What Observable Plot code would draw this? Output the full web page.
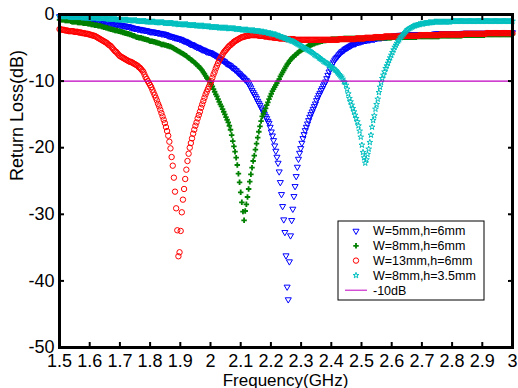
<!DOCTYPE html>
<html><head><meta charset="utf-8">
<script src="https://cdn.jsdelivr.net/npm/d3@7"></script>
<script src="https://cdn.jsdelivr.net/npm/@observablehq/plot@0.6"></script>
<style>
body{margin:0;background:#fff;}
#chart{width:518px;height:388px;}
</style></head><body><div id="chart"></div>
<script>
// Frequency sweep of the measurement (GHz): 401 points from 1.5 to 3 GHz
const sweepStart = 1.5;
const sweepStep = 0.00375;
const xTicks = [1.5,1.6,1.7,1.8,1.9,2,2.1,2.2,2.3,2.4,2.5,2.6,2.7,2.8,2.9,3];
const yTicks = [0,-10,-20,-30,-40,-50];
const seriesNames = ["W=5mm,h=6mm","W=8mm,h=6mm","W=13mm,h=6mm","W=8mm,h=3.5mm"];
const refLevel = -10;
const refName = "-10dB";

// Return loss (dB), one value per sweep point
const lossW5h6 = [
-0.3,-0.3,-0.3,-0.3,-0.3,-0.4,-0.4,-0.4,-0.4,-0.4,
-0.5,-0.5,-0.5,-0.5,-0.5,-0.5,-0.5,-0.6,-0.6,-0.6,
-0.6,-0.7,-0.7,-0.7,-0.7,-0.7,-0.8,-0.8,-0.8,-0.8,
-0.8,-0.9,-0.9,-0.9,-1.0,-1.0,-1.0,-1.1,-1.1,-1.1,
-1.1,-1.2,-1.2,-1.2,-1.3,-1.3,-1.3,-1.4,-1.4,-1.4,
-1.5,-1.5,-1.5,-1.6,-1.6,-1.6,-1.7,-1.7,-1.7,-1.8,
-1.8,-1.8,-1.9,-1.9,-2.0,-2.0,-2.1,-2.1,-2.1,-2.2,
-2.2,-2.2,-2.3,-2.3,-2.3,-2.4,-2.4,-2.4,-2.5,-2.5,
-2.6,-2.6,-2.6,-2.6,-2.7,-2.7,-2.7,-2.8,-2.8,-2.8,
-2.9,-2.9,-2.9,-3.0,-3.0,-3.1,-3.2,-3.2,-3.3,-3.3,
-3.4,-3.4,-3.5,-3.5,-3.6,-3.6,-3.7,-3.7,-3.8,-3.9,
-4.0,-4.0,-4.1,-4.2,-4.3,-4.4,-4.5,-4.5,-4.6,-4.7,
-4.8,-4.9,-4.9,-5.0,-5.1,-5.2,-5.3,-5.3,-5.4,-5.5,
-5.6,-5.6,-5.7,-5.7,-5.8,-5.9,-6.0,-6.1,-6.2,-6.3,
-6.4,-6.5,-6.7,-6.8,-6.9,-7.0,-7.1,-7.3,-7.4,-7.5,
-7.6,-7.7,-7.9,-8.0,-8.1,-8.3,-8.4,-8.6,-8.8,-8.9,
-9.1,-9.3,-9.4,-9.6,-9.8,-9.9,-10.1,-10.4,-10.7,-11.0,
-11.4,-11.7,-12.0,-12.3,-12.6,-13.0,-13.3,-13.6,-14.0,-14.3,
-14.6,-15.0,-15.3,-15.6,-16.0,-16.3,-16.9,-17.6,-18.2,-18.9,
-19.7,-20.5,-21.4,-22.3,-23.6,-25.2,-27.0,-28.8,-30.8,-32.7,
-36.2,-40.9,-42.8,-37.1,-33.2,-30.9,-29.2,-27.3,-25.8,-24.3,
-22.9,-21.7,-20.8,-20.1,-19.3,-18.6,-18.0,-17.4,-16.9,-16.4,
-15.9,-15.4,-15.0,-14.6,-14.2,-13.8,-13.4,-12.9,-12.5,-12.1,
-11.8,-11.4,-11.1,-10.7,-10.4,-10.1,-9.6,-9.1,-8.6,-8.2,
-7.8,-7.4,-7.1,-6.8,-6.6,-6.4,-6.2,-6.0,-5.8,-5.6,
-5.5,-5.4,-5.2,-5.1,-5.0,-4.9,-4.8,-4.7,-4.6,-4.5,
-4.4,-4.4,-4.3,-4.2,-4.2,-4.1,-4.1,-4.0,-4.0,-3.9,
-3.9,-3.9,-3.8,-3.8,-3.8,-3.7,-3.7,-3.7,-3.7,-3.6,
-3.6,-3.5,-3.5,-3.5,-3.5,-3.4,-3.4,-3.4,-3.4,-3.4,
-3.3,-3.3,-3.3,-3.3,-3.3,-3.2,-3.2,-3.2,-3.2,-3.2,
-3.1,-3.1,-3.1,-3.1,-3.1,-3.0,-3.0,-3.0,-3.0,-3.0,
-3.0,-3.0,-3.0,-3.0,-3.0,-3.0,-3.0,-3.0,-3.0,-3.0,
-3.0,-3.0,-3.0,-3.0,-3.0,-3.0,-3.0,-3.0,-3.0,-3.0,
-3.0,-2.9,-2.9,-2.9,-2.9,-2.9,-2.9,-2.9,-2.9,-2.9,
-2.9,-2.9,-2.9,-2.9,-2.9,-2.9,-2.9,-2.9,-2.9,-2.9,
-2.9,-2.9,-2.9,-2.9,-2.9,-2.9,-2.8,-2.8,-2.8,-2.8,
-2.8,-2.8,-2.8,-2.8,-2.8,-2.8,-2.8,-2.8,-2.8,-2.8,
-2.8,-2.8,-2.8,-2.8,-2.8,-2.8,-2.8,-2.8,-2.8,-2.8,
-2.8,-2.7,-2.7,-2.7,-2.7,-2.7,-2.7,-2.7,-2.7,-2.7,
-2.7,-2.7,-2.7,-2.7,-2.7,-2.7,-2.7,-2.7,-2.7,-2.7,
-2.7];

const lossW8h6 = [
-0.8,-0.8,-0.8,-0.8,-0.8,-0.9,-0.9,-0.9,-0.9,-0.9,
-1.0,-1.1,-1.1,-1.1,-1.1,-1.1,-1.2,-1.2,-1.2,-1.2,
-1.2,-1.3,-1.3,-1.3,-1.3,-1.4,-1.4,-1.4,-1.5,-1.5,
-1.5,-1.6,-1.6,-1.6,-1.7,-1.7,-1.7,-1.8,-1.8,-1.9,
-1.9,-2.0,-2.0,-2.1,-2.1,-2.2,-2.2,-2.3,-2.3,-2.4,
-2.4,-2.4,-2.5,-2.5,-2.6,-2.6,-2.7,-2.7,-2.8,-2.8,
-2.9,-2.9,-3.0,-3.0,-3.1,-3.2,-3.2,-3.3,-3.4,-3.4,
-3.5,-3.5,-3.5,-3.6,-3.6,-3.7,-3.7,-3.8,-3.8,-3.9,
-4.0,-4.0,-4.0,-4.1,-4.1,-4.2,-4.2,-4.3,-4.3,-4.4,
-4.5,-4.5,-4.5,-4.6,-4.6,-4.7,-4.7,-4.8,-4.8,-4.9,
-5.0,-5.1,-5.2,-5.3,-5.4,-5.5,-5.6,-5.7,-5.8,-5.9,
-6.0,-6.1,-6.2,-6.4,-6.5,-6.6,-6.8,-6.9,-7.0,-7.2,
-7.3,-7.5,-7.7,-7.8,-8.0,-8.2,-8.4,-8.7,-8.9,-9.2,
-9.5,-9.7,-9.9,-10.1,-10.5,-10.8,-11.2,-11.6,-12.0,-12.3,
-12.7,-13.1,-13.5,-13.8,-14.2,-14.6,-15.0,-15.4,-15.8,-16.2,
-16.7,-17.3,-18.1,-19.0,-19.8,-20.6,-21.5,-22.6,-23.9,-25.2,
-26.7,-28.2,-29.6,-30.9,-29.5,-28.5,-27.4,-26.2,-25.1,-24.0,
-23.0,-22.0,-21.2,-20.3,-19.4,-18.5,-17.6,-16.8,-16.0,-15.3,
-14.9,-14.5,-14.1,-13.6,-13.2,-12.7,-12.3,-11.9,-11.5,-11.2,
-10.9,-10.6,-10.3,-10.0,-9.7,-9.3,-9.0,-8.7,-8.4,-8.1,
-7.8,-7.5,-7.3,-7.0,-6.8,-6.6,-6.4,-6.3,-6.1,-6.0,
-5.8,-5.7,-5.5,-5.4,-5.3,-5.2,-5.1,-5.0,-4.9,-4.8,
-4.7,-4.7,-4.6,-4.5,-4.4,-4.4,-4.3,-4.2,-4.2,-4.1,
-4.1,-4.0,-4.0,-3.9,-3.9,-3.9,-3.8,-3.8,-3.8,-3.8,
-3.7,-3.7,-3.7,-3.7,-3.7,-3.7,-3.7,-3.7,-3.7,-3.7,
-3.7,-3.6,-3.6,-3.6,-3.6,-3.6,-3.6,-3.6,-3.6,-3.6,
-3.6,-3.6,-3.6,-3.6,-3.6,-3.6,-3.6,-3.6,-3.6,-3.6,
-3.6,-3.5,-3.5,-3.5,-3.5,-3.5,-3.5,-3.5,-3.5,-3.5,
-3.5,-3.5,-3.5,-3.5,-3.5,-3.5,-3.5,-3.5,-3.5,-3.5,
-3.5,-3.5,-3.5,-3.5,-3.4,-3.4,-3.4,-3.4,-3.4,-3.4,
-3.4,-3.4,-3.4,-3.4,-3.4,-3.4,-3.4,-3.4,-3.4,-3.4,
-3.4,-3.4,-3.4,-3.4,-3.4,-3.4,-3.3,-3.3,-3.3,-3.3,
-3.3,-3.3,-3.3,-3.3,-3.3,-3.3,-3.3,-3.3,-3.3,-3.3,
-3.3,-3.3,-3.3,-3.3,-3.3,-3.3,-3.2,-3.2,-3.2,-3.2,
-3.2,-3.2,-3.2,-3.2,-3.2,-3.2,-3.2,-3.2,-3.2,-3.2,
-3.2,-3.2,-3.2,-3.2,-3.2,-3.2,-3.1,-3.1,-3.1,-3.1,
-3.1,-3.1,-3.1,-3.1,-3.1,-3.1,-3.1,-3.1,-3.1,-3.1,
-3.1,-3.1,-3.1,-3.1,-3.1,-3.1,-3.0,-3.0,-3.0,-3.0,
-3.0,-3.0,-3.0,-3.0,-3.0,-3.0,-3.0,-3.0,-3.0,-3.0,
-3.0,-3.0,-3.0,-3.0,-3.0,-3.0,-3.0,-3.0,-3.0,-3.0,
-3.0];

const lossW13h6 = [
-2.2,-2.2,-2.3,-2.3,-2.3,-2.4,-2.4,-2.4,-2.5,-2.5,
-2.5,-2.5,-2.5,-2.6,-2.6,-2.6,-2.6,-2.7,-2.7,-2.7,
-2.8,-2.8,-2.8,-2.9,-2.9,-2.9,-3.0,-3.0,-3.1,-3.1,
-3.2,-3.2,-3.3,-3.4,-3.5,-3.6,-3.7,-3.8,-3.9,-4.0,
-4.1,-4.2,-4.3,-4.5,-4.6,-4.7,-4.9,-5.1,-5.3,-5.5,
-5.6,-5.8,-6.0,-6.2,-6.3,-6.4,-6.5,-6.6,-6.7,-6.8,
-6.9,-7.0,-7.1,-7.1,-7.2,-7.3,-7.4,-7.5,-7.6,-7.7,
-7.9,-8.0,-8.2,-8.4,-8.6,-9.0,-9.4,-9.7,-10.0,-10.3,
-10.6,-10.9,-11.3,-11.7,-12.1,-12.5,-12.9,-13.4,-13.8,-14.3,
-14.8,-15.3,-15.8,-16.3,-16.9,-17.5,-18.2,-19.1,-20.1,-21.4,
-22.7,-24.5,-26.6,-29.1,-32.4,-36.3,-35.7,-32.5,-29.7,-27.8,
-26.2,-24.7,-23.3,-22.0,-20.9,-20.0,-19.3,-18.6,-17.9,-17.3,
-16.7,-16.2,-15.6,-15.1,-14.6,-14.0,-13.5,-13.0,-12.5,-12.0,
-11.6,-11.2,-10.8,-10.4,-10.0,-9.5,-9.0,-8.6,-8.1,-7.7,
-7.3,-6.9,-6.6,-6.3,-6.0,-5.7,-5.5,-5.3,-5.1,-4.9,
-4.7,-4.6,-4.4,-4.3,-4.1,-4.0,-3.9,-3.8,-3.7,-3.6,
-3.5,-3.4,-3.4,-3.3,-3.3,-3.2,-3.2,-3.2,-3.1,-3.1,
-3.1,-3.1,-3.1,-3.1,-3.1,-3.1,-3.2,-3.2,-3.2,-3.2,
-3.2,-3.3,-3.3,-3.3,-3.3,-3.4,-3.4,-3.4,-3.4,-3.5,
-3.5,-3.5,-3.5,-3.5,-3.6,-3.6,-3.6,-3.6,-3.6,-3.6,
-3.7,-3.7,-3.7,-3.7,-3.7,-3.7,-3.7,-3.7,-3.8,-3.8,
-3.8,-3.8,-3.8,-3.8,-3.8,-3.8,-3.8,-3.8,-3.8,-3.8,
-3.8,-3.8,-3.8,-3.8,-3.8,-3.8,-3.8,-3.8,-3.8,-3.8,
-3.8,-3.8,-3.8,-3.8,-3.8,-3.8,-3.8,-3.8,-3.8,-3.8,
-3.8,-3.8,-3.8,-3.8,-3.8,-3.8,-3.8,-3.7,-3.7,-3.7,
-3.7,-3.7,-3.7,-3.7,-3.7,-3.7,-3.7,-3.7,-3.7,-3.7,
-3.7,-3.7,-3.6,-3.6,-3.6,-3.6,-3.6,-3.6,-3.6,-3.6,
-3.5,-3.5,-3.5,-3.5,-3.5,-3.5,-3.5,-3.5,-3.4,-3.4,
-3.4,-3.4,-3.4,-3.4,-3.4,-3.4,-3.4,-3.3,-3.3,-3.3,
-3.3,-3.3,-3.3,-3.3,-3.3,-3.3,-3.3,-3.3,-3.3,-3.3,
-3.3,-3.2,-3.2,-3.2,-3.2,-3.2,-3.2,-3.2,-3.2,-3.2,
-3.2,-3.2,-3.2,-3.2,-3.2,-3.2,-3.2,-3.2,-3.1,-3.1,
-3.1,-3.1,-3.1,-3.1,-3.1,-3.1,-3.1,-3.1,-3.1,-3.1,
-3.1,-3.1,-3.1,-3.1,-3.1,-3.1,-3.0,-3.0,-3.0,-3.0,
-3.0,-3.0,-3.0,-3.0,-3.0,-3.0,-3.0,-3.0,-3.0,-3.0,
-3.0,-3.0,-3.0,-3.0,-3.0,-3.0,-3.0,-2.9,-2.9,-2.9,
-2.9,-2.9,-2.9,-2.9,-2.9,-2.9,-2.9,-2.9,-2.9,-2.9,
-2.9,-2.9,-2.9,-2.9,-2.9,-2.9,-2.9,-2.8,-2.8,-2.8,
-2.8,-2.8,-2.8,-2.8,-2.8,-2.8,-2.8,-2.8,-2.8,-2.8,
-2.8,-2.8,-2.8,-2.8,-2.8,-2.8,-2.8,-2.8,-2.8,-2.8,
-2.8];

const lossW8h35 = [
-0.3,-0.3,-0.3,-0.3,-0.3,-0.3,-0.3,-0.3,-0.3,-0.4,
-0.4,-0.4,-0.4,-0.4,-0.4,-0.4,-0.4,-0.4,-0.4,-0.4,
-0.4,-0.5,-0.5,-0.5,-0.5,-0.5,-0.5,-0.5,-0.5,-0.5,
-0.5,-0.5,-0.5,-0.5,-0.6,-0.6,-0.6,-0.6,-0.6,-0.6,
-0.6,-0.6,-0.6,-0.7,-0.7,-0.7,-0.7,-0.7,-0.7,-0.7,
-0.7,-0.8,-0.8,-0.8,-0.8,-0.8,-0.8,-0.8,-0.8,-0.8,
-0.8,-0.9,-0.9,-0.9,-0.9,-0.9,-0.9,-0.9,-0.9,-1.0,
-1.0,-1.0,-1.0,-1.0,-1.0,-1.0,-1.0,-1.1,-1.1,-1.1,
-1.1,-1.1,-1.1,-1.1,-1.1,-1.2,-1.2,-1.2,-1.2,-1.2,
-1.2,-1.2,-1.2,-1.3,-1.3,-1.3,-1.3,-1.3,-1.3,-1.3,
-1.3,-1.4,-1.4,-1.4,-1.4,-1.5,-1.5,-1.5,-1.5,-1.5,
-1.5,-1.5,-1.5,-1.5,-1.6,-1.6,-1.6,-1.6,-1.6,-1.6,
-1.6,-1.7,-1.7,-1.7,-1.7,-1.7,-1.7,-1.7,-1.8,-1.8,
-1.8,-1.8,-1.8,-1.8,-1.9,-1.9,-1.9,-1.9,-1.9,-1.9,
-1.9,-2.0,-2.0,-2.0,-2.0,-2.0,-2.0,-2.0,-2.0,-2.1,
-2.1,-2.1,-2.1,-2.1,-2.1,-2.1,-2.2,-2.2,-2.2,-2.2,
-2.2,-2.3,-2.3,-2.3,-2.3,-2.3,-2.3,-2.4,-2.4,-2.4,
-2.4,-2.4,-2.4,-2.5,-2.5,-2.5,-2.5,-2.5,-2.6,-2.6,
-2.6,-2.7,-2.7,-2.7,-2.8,-2.8,-2.8,-2.9,-2.9,-3.0,
-3.0,-3.0,-3.1,-3.2,-3.2,-3.3,-3.4,-3.4,-3.5,-3.6,
-3.6,-3.7,-3.8,-3.8,-3.9,-4.0,-4.0,-4.1,-4.2,-4.3,
-4.4,-4.5,-4.6,-4.7,-4.8,-4.9,-5.0,-5.1,-5.2,-5.3,
-5.4,-5.5,-5.6,-5.7,-5.8,-6.0,-6.1,-6.2,-6.3,-6.5,
-6.6,-6.7,-6.8,-7.0,-7.1,-7.2,-7.3,-7.4,-7.6,-7.7,
-7.9,-8.0,-8.1,-8.3,-8.4,-8.6,-8.8,-9.0,-9.2,-9.4,
-9.7,-10.1,-10.2,-10.6,-11.2,-11.9,-12.6,-13.1,-13.6,-14.1,
-14.6,-15.1,-15.6,-16.1,-16.7,-17.5,-18.4,-19.6,-20.7,-21.5,
-22.3,-21.8,-21.0,-20.2,-19.2,-18.1,-16.9,-15.9,-15.2,-14.2,
-13.5,-12.7,-11.7,-10.9,-10.2,-9.6,-9.1,-8.6,-8.1,-7.7,
-7.3,-6.9,-6.5,-6.1,-5.7,-5.3,-4.9,-4.6,-4.3,-4.0,
-3.8,-3.5,-3.3,-3.1,-2.9,-2.7,-2.5,-2.3,-2.2,-2.1,
-2.0,-1.9,-1.8,-1.7,-1.7,-1.6,-1.6,-1.5,-1.5,-1.4,
-1.4,-1.4,-1.3,-1.3,-1.3,-1.3,-1.2,-1.2,-1.2,-1.2,
-1.2,-1.1,-1.1,-1.1,-1.1,-1.1,-1.1,-1.1,-1.1,-1.1,
-1.1,-1.1,-1.1,-1.1,-1.1,-1.1,-1.0,-1.0,-1.0,-1.0,
-1.0,-1.0,-1.0,-1.0,-1.0,-1.0,-1.0,-1.0,-1.0,-1.0,
-1.0,-1.0,-1.0,-1.0,-1.0,-1.0,-1.0,-1.0,-1.0,-1.0,
-1.0,-1.0,-1.0,-1.0,-1.0,-1.0,-1.0,-1.0,-1.0,-1.0,
-1.0,-1.0,-1.0,-1.0,-1.0,-1.0,-1.0,-1.0,-1.0,-1.0,
-1.0,-1.0,-1.0,-1.0,-1.0,-1.0,-1.0,-1.0,-1.0,-1.0,
-1.0];

const colors = {blue:"#0000ff", green:"#008000", red:"#ff0000", cyan:"#00bfbf", ref:"#bf00bf"};

// Down-pointing triangle (MATLAB 'v' marker)
const triangleDown = {draw(ctx, size) {
  const s = Math.sqrt(size) * 0.6824, t = s / 2, u = s * Math.sqrt(3) / 2;
  ctx.moveTo(0, s); ctx.lineTo(u, -t); ctx.lineTo(-u, -t); ctx.closePath();
}};

const toRows = (vals) => vals.map((v, i) => ({f: sweepStart + i * sweepStep, db: v}));

const font = "'Liberation Sans', Arial, sans-serif";
const plot = Plot.plot({
  width: 518, height: 388,
  marginLeft: 59, marginRight: 6, marginTop: 14, marginBottom: 41,
  style: {fontFamily: font, fontSize: "18px", background: "#fff", color: "#000"},
  x: {domain: [1.5, 3]},
  y: {domain: [-50, 0]},
  marks: [
    Plot.dot(toRows(lossW5h6), {x: "f", y: "db", symbol: triangleDown, r: 2.9, stroke: colors.blue, fill: "none", strokeWidth: 1}),
    Plot.dot(toRows(lossW8h6), {x: "f", y: "db", symbol: "cross", r: 2.3, fill: colors.green, stroke: "none"}),
    Plot.dot(toRows(lossW13h6), {x: "f", y: "db", symbol: "circle", r: 2.7, stroke: colors.red, fill: "none", strokeWidth: 1}),
    Plot.dot(toRows(lossW8h35), {x: "f", y: "db", symbol: "star", r: 1.8, stroke: colors.cyan, fill: "none", strokeWidth: 1}),
    Plot.ruleY([refLevel], {stroke: colors.ref, strokeWidth: 1.3}),
    Plot.axisX(xTicks, {anchor: "bottom", tickSize: -5, tickPadding: 11.5, strokeWidth: 2, tickFormat: d => String(d), label: null, fontSize: 18}),
    Plot.axisX(xTicks, {anchor: "top", tickSize: -5, strokeWidth: 2, tickFormat: () => "", label: null}),
    Plot.axisY(yTicks, {anchor: "left", tickSize: -5, tickPadding: 10, strokeWidth: 2, tickFormat: d => String(d), label: null, fontSize: 18}),
    Plot.axisY(yTicks, {anchor: "right", tickSize: -5, strokeWidth: 2, tickFormat: () => "", label: null}),
    Plot.frame({stroke: "#000", strokeWidth: 3}),
    Plot.text(["Return Loss(dB)"], {text: d => d, frameAnchor: "left", rotate: -90, dx: -42, fontSize: 18})
  ]
});
document.getElementById("chart").appendChild(plot);

const svg = d3.select(plot);
// x-axis title
svg.append("text").attr("x", (59 + 512) / 2).attr("y", 385.5)
  .attr("text-anchor", "middle").attr("font-family", font).attr("font-size", 17)
  .attr("fill", "#000").text("Frequency(GHz)");

// Legend box inside the plot area
const lg = svg.append("g").attr("font-family", font).attr("font-size", 12.5).attr("text-anchor", "start");
lg.append("rect").attr("x", 338).attr("y", 221).attr("width", 146).attr("height", 79)
  .attr("fill", "#fff").attr("stroke", "#000").attr("stroke-width", 1);
const legendSymbols = [
  {sym: triangleDown, size: Math.PI * 2.9 * 2.9, fill: "none", stroke: colors.blue},
  {sym: d3.symbolCross, size: Math.PI * 2.3 * 2.3, fill: colors.green, stroke: "none"},
  {sym: d3.symbolCircle, size: Math.PI * 2.7 * 2.7, fill: "none", stroke: colors.red},
  {sym: d3.symbolStar, size: Math.PI * 1.8 * 1.8, fill: "none", stroke: colors.cyan}
];
seriesNames.forEach((name, i) => {
  const cy = 231 + i * 14.8;
  const s = legendSymbols[i];
  lg.append("path").attr("d", d3.symbol(s.sym, s.size)()).attr("transform", `translate(356,${cy})`)
    .attr("fill", s.fill).attr("stroke", s.stroke).attr("stroke-width", 1);
  lg.append("text").attr("x", 373).attr("y", cy).attr("dy", "0.35em").attr("text-anchor", "start").text(name);
});
const cyRef = 231 + 4 * 14.8;
lg.append("line").attr("x1", 345).attr("x2", 367).attr("y1", cyRef).attr("y2", cyRef)
  .attr("stroke", colors.ref).attr("stroke-width", 1);
lg.append("text").attr("x", 373).attr("y", cyRef).attr("dy", "0.35em").attr("text-anchor", "start").text(refName);
</script></body></html>
